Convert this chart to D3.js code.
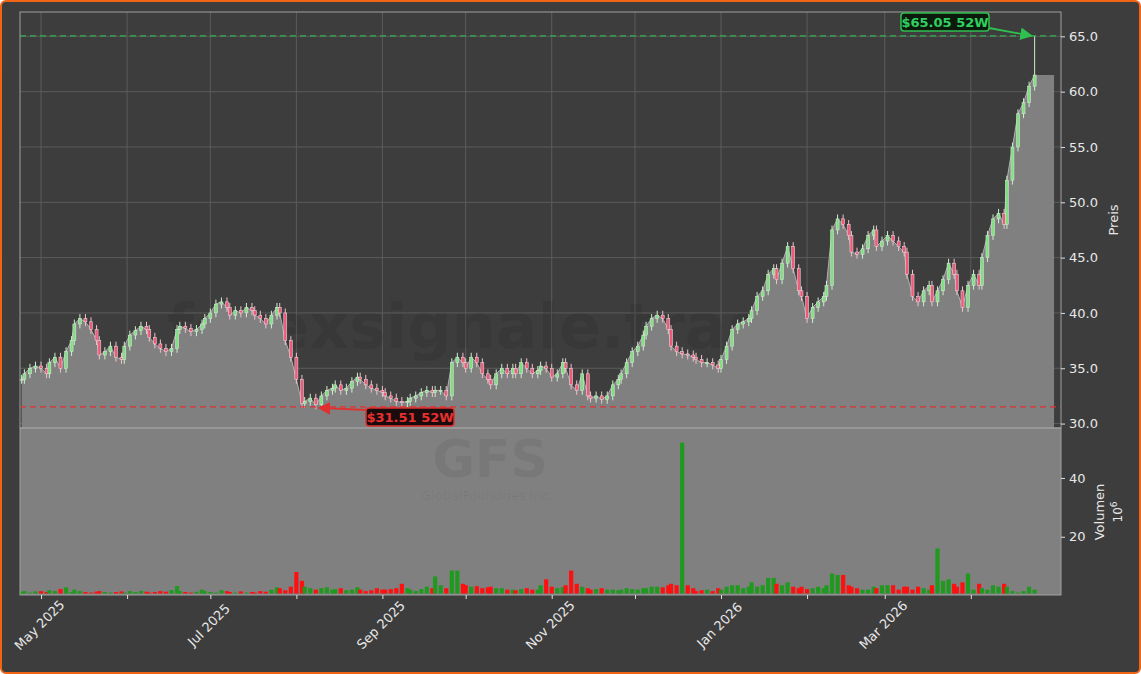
<!DOCTYPE html>
<html><head><meta charset="utf-8">
<script src="https://cdn.jsdelivr.net/npm/d3@7"></script>
<style>body{margin:0;background:#fff}svg{display:block}</style></head>
<body><script>
const startDate = "2025-04-24", endDate = "2026-04-24";
const closes = [34.0,34.5,35,35.2,35.0,34.5,35.5,36,35,36.5,37.5,39.0,39.5,39.2,38.5,37.5,36.2,36.5,37,36,35.8,37,38,38.4,38.8,38.5,37.8,37.2,36.8,36.5,36.8,38.5,38.8,38.6,38.3,38.5,39.0,39.5,40.0,40.8,41.0,40.5,39.8,40.2,40.0,40.5,40.2,39.8,39.5,39.0,39.8,40.5,40,37.5,36,34,31.8,32.0,32.3,31.7,32.5,33.0,33.2,33.5,33.0,33.2,33.8,34.2,34.0,33.5,33.2,33.0,32.8,32.5,32.3,32.0,31.9,32.0,32.3,32.5,32.8,33.0,32.8,33.0,33.0,32.5,35.5,36.0,35.5,35.0,36.0,35.5,34.5,34.0,33.5,34.5,35.0,34.5,35.0,34.5,35.5,35.0,34.5,34.8,35.2,35.0,34.2,34.5,35.5,35.0,33.5,33.0,34.5,32.5,32.3,32.5,32.2,32.5,33.5,34.0,34.5,35.5,36.5,37.0,38.0,38.8,39.5,39.8,39.5,38.5,37.0,36.5,36.3,36.2,36.0,35.8,35.5,35.5,35.3,35.0,35.8,37.0,38.5,39.0,39.2,39.5,40.2,41.5,42.0,43.5,44.0,43.0,44.5,46.0,44.0,42.0,41.5,39.5,40.5,41.0,41.5,42.5,47.5,48.5,48.0,47.0,45.5,45.3,45.8,47.0,47.5,46.0,46.5,47.0,46.5,46.0,45.5,43.5,41.5,41.0,42.0,42.5,41.0,42.0,43.0,44.5,43.5,42.0,40.5,42.5,43.5,42.5,45.0,47.0,48.5,49.0,48.0,52.0,55.0,58.0,59.0,60.5,61.5];
const volumes = [1.3,1.5,1.0,1.4,1.5,1.2,1.8,1.5,2.2,2.8,1.2,2.0,1.5,1.2,1.0,1.3,1.5,1.2,1.0,1.2,1.4,1.0,1.5,1.2,1.6,1.3,1.0,1.2,1.5,1.3,1.8,3.2,1.5,1.2,1.0,1.3,2.0,1.5,1.2,1.0,1.8,1.5,1.2,1.0,1.4,1.0,1.2,1.0,1.5,1.3,2.0,2.8,2.5,1.8,3.0,8.0,5.0,3.0,2.5,2.0,2.5,2.8,2.0,2.2,2.5,1.8,2.0,2.8,2.0,1.5,1.8,2.5,2.0,2.0,2.2,2.5,4.0,2.5,2.0,1.5,2.2,3.0,2.5,6.5,3.5,2.5,8.5,8.5,4.0,3.5,3.0,3.2,2.5,2.8,3.0,2.5,2.5,2.0,2.0,1.8,2.2,2.5,2.0,2.0,3.5,5.5,3.0,2.5,2.8,3.5,8.5,4.0,3.0,2.5,2.0,2.2,2.5,2.0,2.0,1.8,2.0,2.5,2.2,2.0,2.5,2.5,3.0,3.0,2.8,3.5,4.0,3.5,52,3.5,2.5,1.5,1.8,2.0,1.5,2.5,2.0,3.0,3.5,3.5,2.5,3.0,4.5,3.0,3.5,6.0,6.0,4.0,3.5,4.5,3.0,2.5,3.0,2.2,2.5,3.0,2.5,3.5,7.5,7.0,7.0,3.5,3.0,2.5,2.0,2.0,3.0,2.5,3.5,3.5,3.5,2.0,3.0,3.0,2.0,3.0,2.5,2.0,3.5,16,5.0,5.5,4.0,3.0,4.5,7.5,2.0,4.0,2.5,2.0,3.5,3.0,4.0,3.0,1.5,1.0,1.5,3.0,2.0,1.5,1.0,1.5,2.5,3.0,5.0,8.0,5.0,3.0,3.5];
const spikeVolume = 52; // the large volume day was an up day
const priceTicks = [30,35,40,45,50,55,60,65];
const volTicks = [20,40];
const low52 = 31.51, high52 = 65.05;

const W=1141,H=674, L=20, R=1061, PT=12, PB=428, VB=595;
const svg=d3.select("body").append("svg").attr("width",W).attr("height",H);
svg.append("rect").attr("x",1).attr("y",1).attr("width",W-2).attr("height",H-2).attr("rx",5)
  .attr("fill","#3d3d3d").attr("stroke","#f06414").attr("stroke-width",2);
const t0=new Date(startDate), t1=new Date(endDate);
const n=closes.length;
const dates=closes.map((c,i)=>d3.timeDay.floor(new Date(+t0+(t1-t0)*i/(n-1))));
const data=closes.map((c,i)=>{const o=i?closes[i-1]:c; return {d:dates[i],o,c,h:(i===n-1?high52:Math.max(o,c)+0.4),l:Math.min(o,c)-0.4,v:volumes[i],up:volumes[i]===spikeVolume?true:c>=o};});
const x=d3.scaleTime().domain([new Date("2025-04-23T10:00"),new Date("2026-05-03T12:00")]).range([L,R]);
const y=d3.scaleLinear().domain([29.6,67.2]).range([PB,PT]);
const yv=d3.scaleLinear().domain([-0.5,57]).range([VB+2,PB]);
const defs=svg.append("defs");
defs.append("clipPath").attr("id","cp").append("rect").attr("x",L).attr("y",PT).attr("width",R-L).attr("height",PB-PT);
svg.append("rect").attr("x",L).attr("y",PB).attr("width",R-L).attr("height",VB-PB).attr("fill","#808080");
const g=svg.append("g");
g.selectAll(".hg").data(priceTicks).join("line").attr("x1",L).attr("x2",R).attr("y1",d=>y(d)).attr("y2",d=>y(d)).attr("stroke","#5c5c5c");
const months=x.ticks(d3.timeMonth.every(1)).filter(d=>d<new Date("2026-04-15"));
g.selectAll(".vg").data(months).join("line").attr("x1",d=>x(d)).attr("x2",d=>x(d)).attr("y1",PT).attr("y2",PB).attr("stroke","#5c5c5c");
svg.append("text").attr("x",490).attr("y",348).attr("text-anchor","middle").attr("font-family","DejaVu Sans").attr("font-weight","bold").attr("font-size",62).attr("fill","#000").attr("fill-opacity",0.08).text("forexsignale.trade");
const ext=[...data,{d:new Date("2026-05-01"),c:closes[n-1]}];
svg.append("path").attr("clip-path","url(#cp)").datum(ext).attr("fill","#808080")
  .attr("d",d3.area().x(d=>x(d.d)).y0(PB).y1(d=>y(d.c)));
svg.append("path").datum(data).attr("fill","none").attr("stroke","#b0b0b0").attr("stroke-width",1)
  .attr("d",d3.line().x(d=>x(d.d)).y(d=>y(d.c)));
const cw=3;
const cg=svg.append("g");
cg.selectAll("line").data(data).join("line").attr("x1",d=>x(d.d)).attr("x2",d=>x(d.d)).attr("y1",d=>y(d.h)).attr("y2",d=>y(d.l))
  .attr("stroke",d=>d.c>=d.o?"#c8f0c8":"#f0c0cc").attr("stroke-width",1);
cg.selectAll("rect").data(data).join("rect").attr("x",d=>x(d.d)-cw/2).attr("width",cw)
  .attr("y",d=>y(Math.max(d.o,d.c))).attr("height",d=>Math.max(1,Math.abs(y(d.o)-y(d.c))))
  .attr("fill",d=>d.c>=d.o?"#7ee07e":"#f05a7a").attr("stroke","#e8e8e8").attr("stroke-width",0.5);
svg.append("line").attr("x1",L).attr("x2",R).attr("y1",y(low52)).attr("y2",y(low52)).attr("stroke","#e03030").attr("stroke-dasharray","6,4").attr("stroke-width",1.3);
svg.append("line").attr("x1",L).attr("x2",R).attr("y1",y(high52)).attr("y2",y(high52)).attr("stroke","#30b050").attr("stroke-dasharray","6,4").attr("stroke-width",1.3);
svg.append("text").attr("x",490).attr("y",477).attr("text-anchor","middle").attr("font-family","DejaVu Sans").attr("font-weight","bold").attr("font-size",52).attr("fill","#000").attr("fill-opacity",0.06).text("GFS");
svg.append("text").attr("x",487).attr("y",500).attr("text-anchor","middle").attr("font-family","DejaVu Sans").attr("font-size",13).attr("fill","#000").attr("fill-opacity",0.06).text("GlobalFoundries Inc.");
const bw=4.2;
svg.append("g").selectAll("rect").data(data).join("rect").attr("x",d=>x(d.d)-bw/2).attr("width",bw)
  .attr("y",d=>yv(d.v)).attr("height",d=>yv(0)-yv(d.v)-2).attr("fill",d=>d.up?"#1f9a1f":"#ff1010");
svg.append("rect").attr("x",L).attr("y",PT).attr("width",R-L).attr("height",PB-PT).attr("fill","none").attr("stroke","#a0a0a0");
svg.append("rect").attr("x",L).attr("y",PB).attr("width",R-L).attr("height",VB-PB).attr("fill","none").attr("stroke","#a0a0a0");
const ax=svg.append("g").attr("transform",`translate(${R},0)`).call(d3.axisRight(y).tickValues(priceTicks).tickFormat(d3.format(".1f")).tickSize(4).tickPadding(4));
const av=svg.append("g").attr("transform",`translate(${R},0)`).call(d3.axisRight(yv).tickValues(volTicks).tickSize(4).tickPadding(4));
const axb=svg.append("g").attr("transform",`translate(0,${VB})`).call(d3.axisBottom(x).tickValues(months).tickFormat(d=>d.getMonth()%2===1?"":d3.timeFormat("%b %Y")(d)).tickSize(4));
[ax,av,axb].forEach(a=>{a.select(".domain").remove();a.selectAll("line").attr("stroke","#e0e0e0");a.selectAll("text").attr("fill","#e8e8e8").attr("font-family","DejaVu Sans").attr("font-size",13);});
axb.selectAll("text").attr("text-anchor","middle").attr("y",0).attr("dy","0.35em").attr("transform","translate(-2,30) rotate(-45)");
const rl=(t,xx,yy,fs)=>svg.append("text").attr("transform",`translate(${xx},${yy}) rotate(-90)`).attr("text-anchor","middle").attr("fill","#e8e8e8").attr("font-family","DejaVu Sans").attr("font-size",fs).text(t);
rl("Preis",1118,220,13); rl("Volumen",1104,512,13);
svg.append("text").attr("transform","translate(1122,512) rotate(-90)").attr("text-anchor","middle").attr("fill","#e8e8e8").attr("font-family","DejaVu Sans").attr("font-size",12).html('10<tspan dy="-5" font-size="9">6</tspan>');
defs.append("marker").attr("id","ag").attr("viewBox","0 0 10 10").attr("refX",9).attr("refY",5).attr("markerWidth",7).attr("markerHeight",7).attr("orient","auto").append("path").attr("d","M0,0L10,5L0,10z").attr("fill","#30c050");
defs.append("marker").attr("id","ar").attr("viewBox","0 0 10 10").attr("refX",9).attr("refY",5).attr("markerWidth",7).attr("markerHeight",7).attr("orient","auto").append("path").attr("d","M0,0L10,5L0,10z").attr("fill","#e03030");
const hi=data[n-1];
svg.append("line").attr("x1",989).attr("y1",28).attr("x2",x(hi.d)-3).attr("y2",y(high52)).attr("stroke","#30c050").attr("stroke-width",1.8).attr("marker-end","url(#ag)");
svg.append("rect").attr("x",901).attr("y",13).attr("width",88).attr("height",18).attr("rx",3).attr("fill","#0c1a0c").attr("stroke","#30c050").attr("stroke-width",1.5);
svg.append("text").attr("x",945).attr("y",27).attr("text-anchor","middle").attr("font-family","DejaVu Sans").attr("font-weight","bold").attr("font-size",13).attr("fill","#30d060").text("$65.05 52W");
const lo=data[59];
svg.append("line").attr("x1",367).attr("y1",410).attr("x2",x(lo.d)+3).attr("y2",y(low52)+1).attr("stroke","#e03030").attr("stroke-width",1.8).attr("marker-end","url(#ar)");
svg.append("rect").attr("x",366).attr("y",408).attr("width",88).attr("height",18).attr("rx",3).attr("fill","#1a0c0c").attr("stroke","#e03030").attr("stroke-width",1.5);
svg.append("text").attr("x",410).attr("y",422).attr("text-anchor","middle").attr("font-family","DejaVu Sans").attr("font-weight","bold").attr("font-size",13).attr("fill","#e83030").text("$31.51 52W");
</script></body></html>
